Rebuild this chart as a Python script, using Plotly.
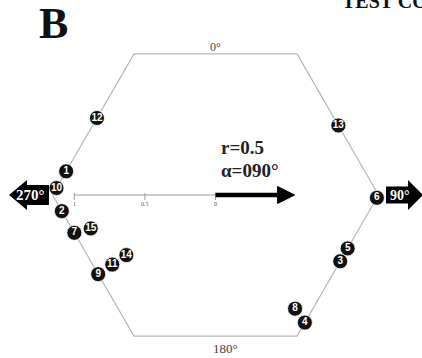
import numpy as np
import plotly.graph_objects as go

# ---------------- data ----------------
point_ids = [1, 2, 3, 4, 5, 6, 7, 8, 9, 10, 11, 12, 13, 14, 15]
angles_deg = [279, 264, 118, 145, 112, 91, 255, 145, 236, 272.5, 236, 303, 60.5, 236, 255]
stack_level = [0, 0, 0, 0, 0, 0, 0, 1, 0, 0, 1, 0, 0, 2, 1]
mean_r = 0.5
mean_angle_deg = 90
scale_ticks = [1, 0.5, 0]
scale_tick_labels = ["1", "0.5", "0"]
axis_labels = ["0°", "90°", "180°", "270°"]
panel_label = "B"
title_text = "TEST CO"

# ---------------- geometry ----------------
W, H = 422, 358
PX = 163.0            # pixels per data unit (hexagon circumradius = 1)
CX, CY = 215.5, 195.0 # centre in pixels
R = 1.0
APO = np.sqrt(3) / 2 * R   # apothem -> r = 1 on the scale bar
STEP = 17 / PX             # inward stacking step


def boundary_dist(theta_deg):
    t = np.asarray(theta_deg, dtype=float)
    normal = np.round(t / 60.0) * 60.0
    return APO / np.cos(np.radians(t - normal))


th = np.radians(angles_deg)
dist = boundary_dist(angles_deg) - np.array(stack_level) * STEP
px = np.sin(th) * dist
py = np.cos(th) * dist

hex_ang = np.radians([30, 90, 150, 210, 270, 330, 30])
hex_x = np.sin(hex_ang) * R
hex_y = np.cos(hex_ang) * R

fig = go.Figure()

# hexagon outline
fig.add_trace(go.Scatter(x=hex_x, y=hex_y, mode="lines",
                         line=dict(color="#b8b8b8", width=1.2),
                         hoverinfo="skip"))

# scale bar
fig.add_trace(go.Scatter(x=[-APO * scale_ticks[0], 0], y=[0, 0], mode="lines",
                         line=dict(color="#9a9a9a", width=1), hoverinfo="skip"))
for t, lab in zip(scale_ticks, scale_tick_labels):
    fig.add_trace(go.Scatter(x=[-APO * t, -APO * t], y=[2 / PX, -5 / PX], mode="lines",
                             line=dict(color="#9a9a9a", width=1), hoverinfo="skip"))
    fig.add_annotation(x=-APO * t, y=-9 / PX, text=lab, showarrow=False,
                       font=dict(family="Liberation Serif", size=6, color="#555"),
                       xanchor="center", yanchor="middle")

# mean vector arrow
ma = np.radians(mean_angle_deg)
ux, uy = np.sin(ma), np.cos(ma)
vx, vy = -uy, ux
r_len = mean_r * APO
head_l = 17 / PX
head_w = 8.5 / PX
base = r_len - head_l / 2
tip = r_len + head_l / 2
fig.add_trace(go.Scatter(x=[0, ux * base], y=[0, uy * base], mode="lines",
                         line=dict(color="black", width=4.5), hoverinfo="skip"))
fig.add_trace(go.Scatter(
    x=[ux * base + vx * head_w, ux * tip, ux * base - vx * head_w, ux * base + vx * head_w],
    y=[uy * base + vy * head_w, uy * tip, uy * base - vy * head_w, uy * base + vy * head_w],
    mode="lines", fill="toself", fillcolor="black",
    line=dict(color="black", width=1), hoverinfo="skip"))

# data points
fig.add_trace(go.Scatter(
    x=px, y=py, mode="markers+text",
    text=[str(i) for i in point_ids], textposition="middle center",
    marker=dict(size=15, color="#111111", line=dict(color="white", width=0.8)),
    textfont=dict(family="Liberation Sans", size=10, color="white", weight="bold"),
    hoverinfo="skip"))

# direction arrows (270 left, 90 right)
bw = 10 / PX
hw = 15 / PX
l_end = -R - 3.5 / PX
l_base = l_end - 22 / PX
l_tip = l_base - 18 / PX
path_left = (f"M {l_end},{bw} L {l_base},{bw} L {l_base},{hw} L {l_tip},0 "
             f"L {l_base},{-hw} L {l_base},{-bw} L {l_end},{-bw} Z")
r_start = R + 7.5 / PX
r_base = r_start + 22 / PX
r_tip = r_base + 15 / PX
bw2 = 8.5 / PX
path_right = (f"M {r_start},{bw2} L {r_base},{bw2} L {r_base},{hw} L {r_tip},0 "
              f"L {r_base},{-hw} L {r_base},{-bw2} L {r_start},{-bw2} Z")
for p in (path_left, path_right):
    fig.add_shape(type="path", path=p, fillcolor="black",
                  line=dict(color="black", width=0), xref="x", yref="y", layer="above")

fig.add_annotation(x=(l_tip + l_end) / 2 + 1 / PX, y=0, text=axis_labels[3], showarrow=False,
                   font=dict(family="Liberation Serif", size=15, color="white", weight="bold"),
                   xanchor="center", yanchor="middle")
fig.add_annotation(x=(r_start + r_tip) / 2 - 5 / PX, y=0, text=axis_labels[1], showarrow=False,
                   font=dict(family="Liberation Serif", size=14, color="white", weight="bold"),
                   xanchor="center", yanchor="middle")

# 0 and 180 labels
fig.add_annotation(x=0, y=APO + 7 / PX, text=axis_labels[0], showarrow=False,
                   font=dict(family="Liberation Serif", size=12, color="#444"),
                   xanchor="center", yanchor="middle")
fig.add_annotation(x=10 / PX, y=-APO - 12 / PX, text=axis_labels[2], showarrow=False,
                   font=dict(family="Liberation Serif", size=13, color="#444"),
                   xanchor="center", yanchor="middle")

# mean vector text
fig.add_annotation(x=3.5 / PX, y=48 / PX, text=f"r={mean_r}", showarrow=False,
                   font=dict(family="Liberation Serif", size=19, color="#222", weight="bold"),
                   xanchor="left", yanchor="middle")
fig.add_annotation(x=3.5 / PX, y=25 / PX, text=f"α={mean_angle_deg:03d}°", showarrow=False,
                   font=dict(family="Liberation Serif", size=19, color="#222", weight="bold"),
                   xanchor="left", yanchor="middle")

# panel label and clipped title (cut at the top edge, as in the source figure)
fig.add_annotation(x=37 / W, y=1 - 23 / H, xref="paper", yref="paper", text=panel_label,
                   showarrow=False, xanchor="left", yanchor="middle",
                   font=dict(family="Liberation Serif", size=44, color="#111", weight="bold"))
fig.add_annotation(x=340 / W, y=1 - 14 / H, xref="paper", yref="paper", text=title_text,
                   showarrow=False, xanchor="left", yanchor="bottom",
                   font=dict(family="Liberation Serif", size=20, color="#111", weight="bold"))

fig.update_layout(
    width=W, height=H,
    margin=dict(l=0, r=0, t=0, b=0),
    paper_bgcolor="white", plot_bgcolor="white",
    showlegend=False,
    xaxis=dict(range=[-CX / PX, (W - CX) / PX], visible=False, fixedrange=True),
    yaxis=dict(range=[(CY - H) / PX, CY / PX], visible=False, fixedrange=True),
)

fig.write_html("out.html", config={"displayModeBar": False},
               post_script="document.body.style.margin='0px';document.body.style.overflow='hidden';")
